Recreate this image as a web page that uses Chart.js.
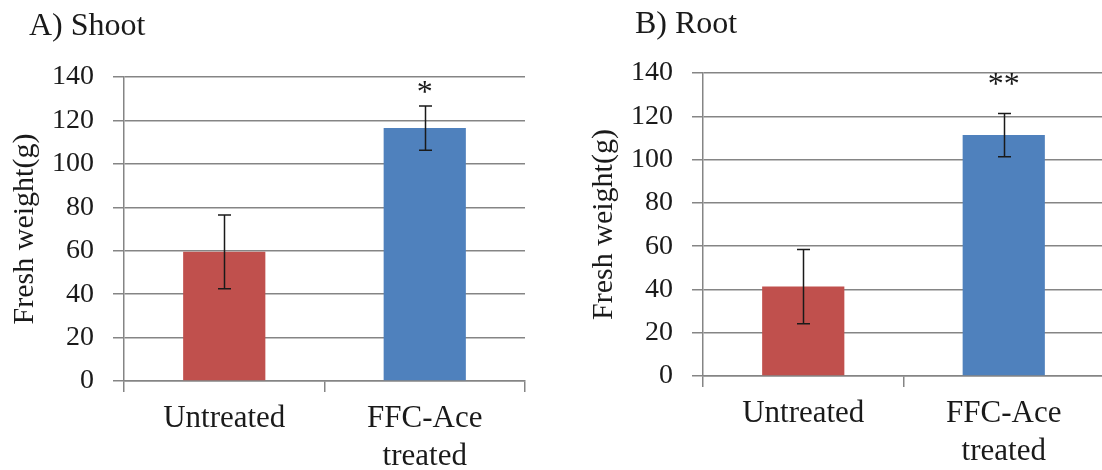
<!DOCTYPE html>
<html>
<head>
<meta charset="utf-8">
<script src="https://cdn.jsdelivr.net/npm/chart.js@4.4.1/dist/chart.umd.min.js"></script>
<style>
  html, body { margin: 0; padding: 0; background: #fff; overflow: hidden; }
  body { width: 1102px; height: 470px; position: relative; }
  .panel { position: absolute; top: 0; height: 470px; }
  .ptitle { position: absolute; font-family: 'Liberation Serif', serif; font-size: 32px; color: #1a1a1a; white-space: nowrap; }
</style>
</head>
<body>
<div class="panel" style="left:0;width:551px"><canvas id="shoot"></canvas></div>
<div class="panel" style="left:551px;width:560px"><canvas id="root"></canvas></div>
<div class="ptitle" style="left:29px;top:6px">A) Shoot</div>
<div class="ptitle" style="left:635px;top:4px">B) Root</div>
<script>
// data
var categories = ['Untreated', ['FFC-Ace', 'treated']];
var shootMean = [59.5, 116.5];
var shootErr = [17.0, 10.2];
var shootStars = ['', '*'];
var rootMean = [41.3, 111.3];
var rootErr = [17.2, 10.0];
var rootStars = ['', '**'];
var yTicks = [0, 20, 40, 60, 80, 100, 120, 140];
var barColors = ['#C0504D', '#4F81BD'];

var serif = 'Liberation Serif';
var textColor = '#1a1a1a';
var gridColor = '#858585';

// error bars + significance stars
var errorBars = {
    id: 'errorBars',
    afterDatasetsDraw: function(chart, args, opts) {
        var ctx = chart.ctx;
        var meta = chart.getDatasetMeta(0);
        var ys = chart.scales.y;
        var vals = chart.data.datasets[0].data;
        ctx.save();
        ctx.strokeStyle = '#1a1a1a';
        ctx.lineWidth = 1.5;
        meta.data.forEach(function(bar, i) {
            var x = Math.round(bar.x) + 0.5;
            var top = ys.getPixelForValue(vals[i] + opts.err[i]);
            var bot = ys.getPixelForValue(vals[i] - opts.err[i]);
            ctx.beginPath();
            ctx.moveTo(x, top); ctx.lineTo(x, bot);
            ctx.moveTo(x - 6.5, top); ctx.lineTo(x + 6.5, top);
            ctx.moveTo(x - 6.5, bot); ctx.lineTo(x + 6.5, bot);
            ctx.stroke();
            if (opts.stars[i]) {
                ctx.fillStyle = textColor;
                ctx.font = '32px ' + serif;
                ctx.textAlign = 'center';
                ctx.textBaseline = 'middle';
                ctx.fillText(opts.stars[i], bar.x, ys.getPixelForValue(opts.starLevel));
            }
        });
        ctx.restore();
    }
};

function makeChart(id, means, errs, stars, starLevel, pad, xHeight) {
    return new Chart(document.getElementById(id).getContext('2d'), {
        type: 'bar',
        data: {
            labels: categories,
            datasets: [{
                data: means,
                backgroundColor: barColors,
                borderWidth: 0,
                categoryPercentage: 1.0,
                barPercentage: 0.41
            }]
        },
        options: {
            responsive: true,
            maintainAspectRatio: false,
            animation: false,
            layout: { padding: pad },
            plugins: {
                legend: { display: false },
                tooltip: { enabled: false },
                errorBars: { err: errs, stars: stars, starLevel: starLevel }
            },
            scales: {
                x: {
                    offset: true,
                    grid: { display: true, drawOnChartArea: false, drawTicks: true, tickLength: 11, offset: true, color: gridColor, lineWidth: 1.5 },
                    border: { display: true, color: gridColor, width: 1.5 },
                    ticks: { font: { family: serif, size: 31, lineHeight: 1.22 }, color: textColor, padding: 8, maxRotation: 0, autoSkip: false },
                    afterFit: function(s) { s.height = xHeight; }
                },
                y: {
                    min: 0,
                    max: 140,
                    afterBuildTicks: function(s) { s.ticks = yTicks.map(function(v) { return { value: v }; }); },
                    grid: { color: gridColor, lineWidth: 1.5, tickLength: 11, drawTicks: true },
                    border: { display: true, color: gridColor, width: 1.5 },
                    ticks: { font: { family: serif, size: 28 }, color: textColor, padding: 19 },
                    title: { display: true, text: 'Fresh weight(g)', font: { family: serif, size: 30 }, color: textColor, padding: { top: 7, bottom: 0 } },
                    afterFit: function(s) { s.width = 124; }
                }
            }
        },
        plugins: [errorBars]
    });
}

makeChart('shoot', shootMean, shootErr, shootStars, 132.5, { left: 0, right: 26, top: 77, bottom: 0 }, 89);
makeChart('root', rootMean, rootErr, rootStars, 134, { left: 28, right: 7, top: 73, bottom: 0 }, 94);
</script>
</body>
</html>
